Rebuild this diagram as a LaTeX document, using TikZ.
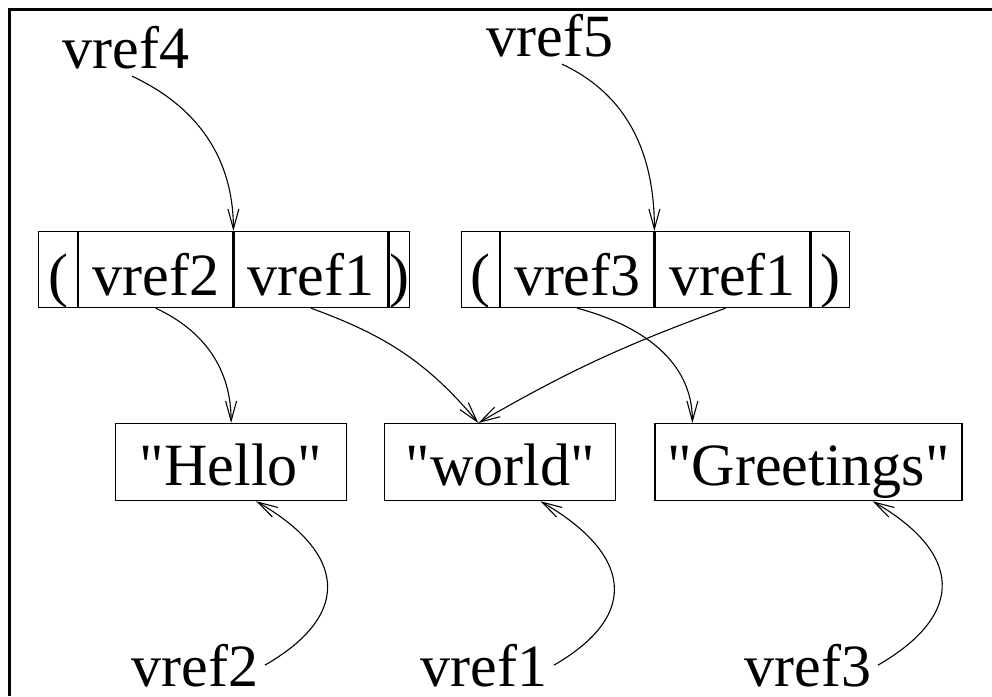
\documentclass[tikz,border=0pt]{standalone}
\usepackage{fontspec}
\setmainfont{Liberation Serif}[Ligatures=TeXOff]
\usetikzlibrary{arrows.meta,positioning}

\begin{document}
\begin{tikzpicture}[x=1pt, y=-1pt, line width=1.2pt,
  font=\fontsize{60}{72}\selectfont,
  >={Straight Barb[length=20pt,width=11pt]},
  cell/.style={draw, inner sep=0pt, minimum height=76pt, text height=55pt, text depth=3pt},
  strbox/.style={draw, inner sep=0pt, minimum height=77pt, minimum width=231pt, text height=50pt, text depth=3pt},
  lbl/.style={inner xsep=6pt, inner ysep=4pt, anchor=base},
  ptr/.style={->, line width=1.1pt}]
  \useasboundingbox (0,0) rectangle (992,696);
  \draw[line width=3pt] (9,696) -- (9,9) -- (992,9);

  % tuple (vref2 vref1)
  \node[cell, minimum width=39pt, anchor=north west] (t1l) at (38,231) {(};
  \node[cell, minimum width=154pt, right=0pt of t1l] (t1a) {vref2};
  \node[cell, minimum width=154pt, right=0pt of t1a] (t1b) {vref1};
  \node[cell, minimum width=20pt, right=0pt of t1b] (t1r) {)};

  % tuple (vref3 vref1)
  \node[cell, minimum width=38pt, anchor=north west] (t2l) at (461,231) {(};
  \node[cell, minimum width=153pt, right=0pt of t2l] (t2a) {vref3};
  \node[cell, minimum width=155pt, right=0pt of t2a] (t2b) {vref1};
  \node[cell, minimum width=38pt, right=0pt of t2b] (t2r) {)};

  % strings
  \node[strbox, anchor=north west] (hello) at (115,423) {"Hello"};
  \node[strbox, right=37pt of hello] (world) {"world"};
  \node[strbox, minimum width=307pt, right=38pt of world] (greet) {"Greetings"};

  % references
  \node[lbl] (top4) at (126,68) {vref4};
  \node[lbl] (top5) at (550,56) {vref5};
  \node[lbl] (bot2) at (195,686) {vref2};
  \node[lbl] (bot1) at (484,686) {vref1};
  \node[lbl] (bot3) at (808,686) {vref3};

  \draw[ptr] ([xshift=6pt,yshift=-3pt]top4.south) to[out=-25,in=90] (t1b.north west);
  \draw[ptr] ([xshift=12pt,yshift=-3pt]top5.south) to[out=-25,in=90] (t2b.north west);
  \draw[ptr] (t1a.south) to[out=-25,in=90] (hello.north);
  \draw[ptr] (t1b.south) to[out=-20,in=130] ([xshift=-22pt]world.north);
  \draw[ptr] ([xshift=-7pt]t2b.south) to[out=-160,in=30] ([xshift=-22pt]world.north);
  \draw[ptr] (t2a.south) to[out=-15,in=90] ([xshift=38pt]greet.north west);
  \draw[ptr] (bot2.east) to[out=30,in=-30,looseness=1.6] ([xshift=25pt]hello.south);
  \draw[ptr] (bot1.east) to[out=30,in=-30,looseness=1.6] ([xshift=40pt]world.south);
  \draw[ptr] (bot3.east) to[out=30,in=-30,looseness=1.6] ([xshift=64pt]greet.south);
\end{tikzpicture}
\end{document}
